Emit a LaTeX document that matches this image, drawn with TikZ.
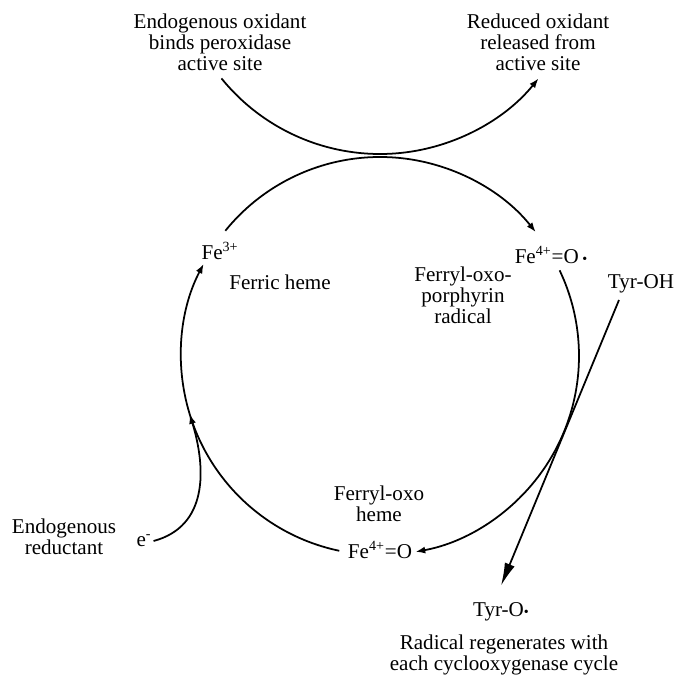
\documentclass[tikz,border=0pt]{standalone}
\usepackage{fontspec}
\setmainfont{Liberation Serif}
\usetikzlibrary{arrows.meta}
\usetikzlibrary{positioning}

\newcommand{\radDot}{{\footnotesize\textbullet}}

\begin{document}
\begin{tikzpicture}[x=0.02cm,y=0.02cm]
				\tikzset{txt/.style = {font=\fontsize{12}{12}\selectfont, align=center, 
						inner sep=1pt}}
				\tikzset{edge/.style = {-{Latex[length=5.5pt,width=4pt]}, line width=1pt}}
				\tikzset{edgebig/.style = {-{Latex[length=13pt,width=6pt]}, line width=1pt}}
				
				\useasboundingbox (0,0) rectangle (675,684);
				
				% vertices
				\node[txt] (oxin) at (220,642) {Endogenous oxidant\\binds peroxidase\\active site};
				\node[txt] (oxout) at (538,642) {Reduced oxidant\\released from\\active site};
				\node[txt] (fe3) at (220,433) {Fe\textsuperscript{3+}};
				\node[txt] (ferric) at (280,402) {Ferric heme};
				\node[txt] (fe4r) at (551,429) {Fe\textsuperscript{4+}=O\,\radDot};
				\node[txt] (ferrylrad) at (463,389) {Ferryl-oxo-\\porphyrin\\radical};
				\node[txt] (tyroh) at (641,400) {Tyr-OH};
				\node[txt] (ferryl) at (379,180) {Ferryl-oxo\\heme};
				\node[txt] (fe4) at (380,134) {Fe\textsuperscript{4+}=O};
				\node[txt] (red) at (64,147) {Endogenous\\reductant};
				\node[txt] (em) at (144,143) {e\textsuperscript{-}};
				\node[txt] (tyro) at (501,72) {Tyr-O\radDot};
				\node[txt] (regen) at (504,29) {Radical regenerates with\\each cyclooxygenase cycle};
				
				% centres of the two circles
				\coordinate (c) at (380,328);
				\coordinate (ox) at (380,734);
				\path (ox) ++(219:204) coordinate (oxa);
				\path (c) ++(141:199) coordinate (p1);
				\path (c) ++(25.5:199) coordinate (p2);
				\path (c) ++(-101.8:199) coordinate (p3);
				\path (c) ++(197:199) coordinate (ej);
				
				%edges
				\draw[edge] (oxa) arc[start angle=219, end angle=321, radius=204];
				\draw[edge] (p1) arc[start angle=141, end angle=38.5, radius=199];
				\draw[edge] (p2) arc[start angle=25.5, end angle=-79.7, radius=199];
				\draw[edge] (p3) arc[start angle=-101.8, end angle=-207.6, radius=199];
				\draw[edge] (em.east) to[out=15, in=-73, looseness=1.1] (ej);
				\draw[edgebig] ([shift={(-22,-16)}]tyroh.center) -- ([yshift=15]tyro.center);
				
\end{tikzpicture}
\end{document}
